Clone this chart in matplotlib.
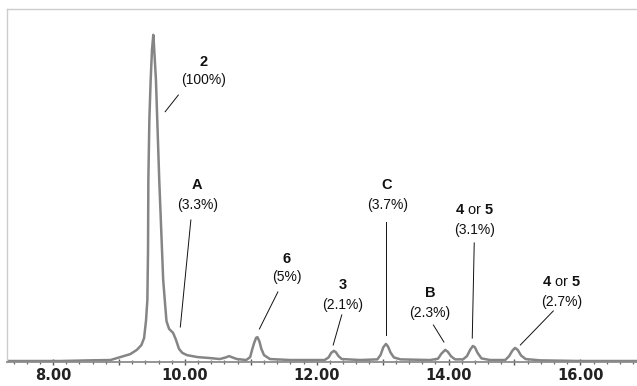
import matplotlib
matplotlib.use('Agg')
import matplotlib.pyplot as plt
from matplotlib.ticker import MultipleLocator, FuncFormatter

# retention time (min) and abundance (% of main peak)
time = [7.30, 7.65, 8.11, 8.56, 8.87, 9.02, 9.17, 9.27, 9.34, 9.38, 9.41, 9.43,
        9.44, 9.445, 9.46, 9.48, 9.50, 9.52, 9.53, 9.56, 9.58, 9.61, 9.64, 9.67,
        9.70, 9.72, 9.76, 9.82, 9.86, 9.91, 9.96, 10.03, 10.19, 10.38, 10.53,
        10.62, 10.67, 10.72, 10.79, 10.93, 10.99, 11.02, 11.05, 11.08, 11.10,
        11.13, 11.16, 11.20, 11.29, 11.60, 12.12, 12.18, 12.22, 12.26, 12.29,
        12.33, 12.38, 12.66, 12.92, 12.97, 13.01, 13.05, 13.08, 13.12, 13.17,
        13.27, 13.72, 13.84, 13.89, 13.95, 13.99, 14.04, 14.10, 14.22, 14.28,
        14.33, 14.37, 14.40, 14.44, 14.50, 14.63, 14.86, 14.92, 14.97, 15.01,
        15.05, 15.10, 15.17, 15.39, 16.00, 16.86]
abundance = [0.3, 0.3, 0.3, 0.5, 0.6, 1.5, 2.4, 3.7, 5.2, 7.3, 12.8, 19.0,
             34.3, 55.7, 74.0, 86.2, 95.4, 100.0, 96.9, 86.2, 74.0, 55.7, 40.4, 25.1,
             17.4, 12.5, 10.1, 8.9, 7.0, 4.0, 2.8, 2.1, 1.5, 1.2, 0.9,
             1.4, 1.8, 1.4, 0.9, 0.6, 1.5, 3.8, 5.8, 7.4, 7.6,
             6.3, 4.0, 2.1, 0.9, 0.6, 0.6, 1.4, 2.8, 3.4, 3.0,
             1.8, 0.9, 0.6, 0.8, 2.2, 4.5, 5.5, 4.8, 2.9, 1.4,
             0.8, 0.6, 1.0, 2.5, 3.7, 3.1, 1.7, 0.8, 0.8, 1.8,
             3.8, 4.9, 4.5, 2.8, 1.1, 0.6, 0.6, 1.8, 3.5, 4.3,
             3.7, 2.0, 0.9, 0.5, 0.3, 0.3]

# peak labels
names = ['2', 'A', '6', '3', 'C', '4 or 5', 'B', '4 or 5']
percents = ['(100%)', '(3.3%)', '(5%)', '(2.1%)', '(3.7%)', '(3.1%)', '(2.3%)', '(2.7%)']

# label placement (time, abundance) and leader lines
name_pos = [(10.28, 91.7), (10.19, 54.1), (11.55, 31.5), (12.40, 23.5),
            (13.07, 54.1), (14.40, 46.5), (13.72, 21.1), (15.72, 24.5)]
pct_pos = [(10.28, 86.2), (10.19, 48.0), (11.55, 26.0), (12.40, 17.4),
           (13.07, 48.0), (14.40, 40.4), (13.72, 15.0), (15.72, 18.3)]
leaders = [((9.90, 81.6), (9.70, 76.5)),
           ((10.09, 43.4), (9.93, 10.7)),
           ((11.41, 21.4), (11.13, 10.1)),
           ((12.38, 14.4), (12.25, 5.2)),
           ((13.05, 42.8), (13.05, 8.3)),
           ((14.39, 36.4), (14.36, 7.3)),
           ((13.77, 11.3), (13.93, 6.1)),
           ((15.59, 15.6), (15.09, 5.2))]

plt.rcParams['mathtext.fontset'] = 'custom'
plt.rcParams['mathtext.rm'] = 'Liberation Sans'
plt.rcParams['mathtext.bf'] = 'Liberation Sans:bold'

fig = plt.figure(figsize=(6.37, 3.86), dpi=100)
ax = fig.add_axes([0.011, 0.0622, 0.989, 0.9145])

ax.plot(time, abundance, color='#858585', lw=1.8, solid_joinstyle='round')

for name, pct, (nx, ny), (px, py) in zip(names, percents, name_pos, pct_pos):
    if name == '4 or 5':
        label = r'$\mathbf{4}$ or $\mathbf{5}$'
    else:
        label = r'$\mathbf{' + name + '}$'
    ax.text(nx, ny, label, ha='center', va='center', fontsize=10.5,
            family='Liberation Sans', color='#111111')
    ax.text(px, py, pct, ha='center', va='center', fontsize=10,
            family='Liberation Sans', color='#111111')

for (x1, y1), (x2, y2) in leaders:
    ax.plot([x1, x2], [y1, y2], color='#111111', lw=0.7)

ax.set_xlim(7.30, 16.86)
ax.set_ylim(0, 107.9)

for side in ['top', 'left']:
    ax.spines[side].set_color('#cccccc')
    ax.spines[side].set_linewidth(1.0)
ax.spines['right'].set_visible(False)
ax.spines['bottom'].set_color('#8c8c8c')
ax.spines['bottom'].set_linewidth(1.3)

ax.set_yticks([])
ax.xaxis.set_major_locator(MultipleLocator(1))
ax.xaxis.set_minor_locator(MultipleLocator(0.2))
ax.xaxis.set_major_formatter(FuncFormatter(
    lambda v, pos: '%.2f' % v if round(v) % 2 == 0 else ''))
ax.tick_params(axis='x', which='major', length=5, width=1.0, color='#555555',
               direction='inout', pad=2, labelsize=10.5, labelcolor='#222222')
ax.tick_params(axis='x', which='minor', length=3.5, width=0.9, color='#666666',
               direction='inout')
for lab in ax.get_xticklabels():
    lab.set_fontweight('bold')
    lab.set_family('DejaVu Sans')

fig.savefig('out.png', dpi=100)
